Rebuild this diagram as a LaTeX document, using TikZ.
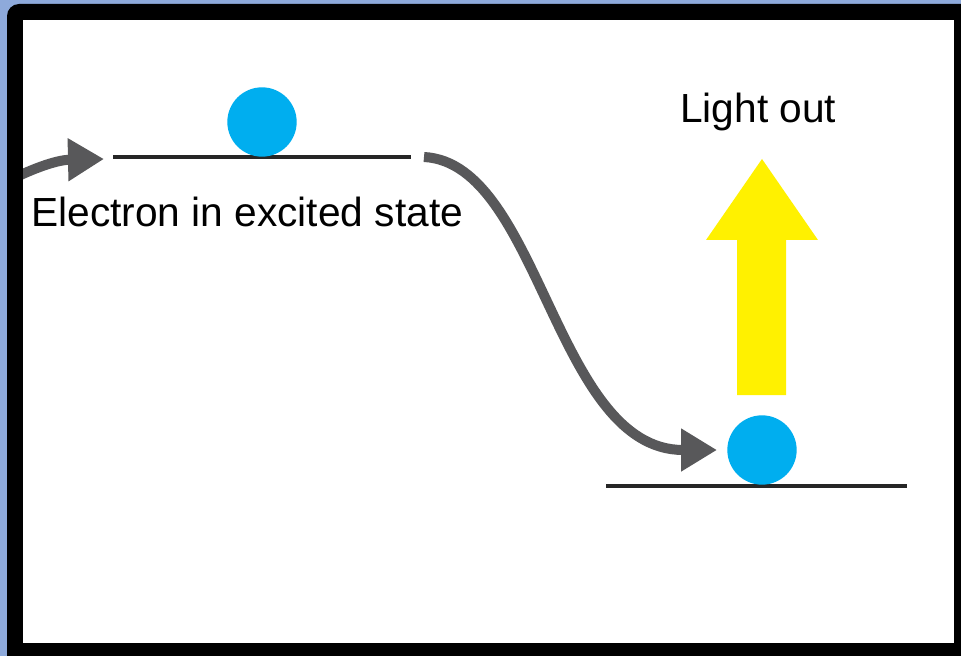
\documentclass[tikz,border=0pt]{standalone}
\usepackage{fontspec}
\setmainfont{Liberation Sans}
\usetikzlibrary{arrows.meta}

\definecolor{frameblue}{RGB}{142,170,219}
\definecolor{arrowgray}{RGB}{88,88,90}
\definecolor{electroncyan}{RGB}{0,174,239}
\definecolor{lightyellow}{RGB}{255,241,0}

\begin{document}
\begin{tikzpicture}[
    x=0.75pt, y=-0.75pt,
    electron/.style={circle, fill=electroncyan, minimum size=52pt, inner sep=0pt},
    level/.style={line width=2.3pt, draw=black!85},
    label/.style={font=\fontsize{30.5}{36}\selectfont, inner sep=0pt, anchor=base west},
    jump/.style={line width=7.5pt, draw=arrowgray, -{Triangle[length=27pt, width=30.5pt]}},
    lightarrow/.style={fill=lightyellow}
]
\useasboundingbox (0,0) rectangle (961,656);

% Frame
\fill[frameblue] (0,0) rectangle (961,656);
\begin{scope}
\clip (0,0) rectangle (961,656);
\fill[black, rounded corners=9pt] (7,4) rectangle (990,690);
\end{scope}
\fill[white] (23,20) rectangle (954,643);

% Energy levels
\coordinate (upL) at (113,157);
\coordinate (upR) at (411,157);
\coordinate (lowL) at (606,486);
\coordinate (lowR) at (907,486);
\draw[level] (upL) -- (upR);
\draw[level] (lowL) -- (lowR);

% Electrons
\node[electron] (excited) at (262,122) {};
\node[electron] (ground) at (762,450) {};

% Labels
\node[label] (excitedlabel) at (31,227) {Electron in excited state};
\node[label] (lightlabel) at (680,123) {Light out};

% Arrows
\coordinate (inStart) at (8,181);
\coordinate (inEnd) at (104,159);
\coordinate (dropStart) at (424,157);
\coordinate (dropEnd) at (717,450);
\begin{scope}
\clip (23,20) rectangle (954,643);
\draw[jump] (inStart) .. controls (30,170) and (55,160) .. (inEnd);
\end{scope}
\draw[jump] (dropStart) .. controls (540,163) and (555,450) .. (dropEnd);

% Light out
\fill[lightarrow] (737,395) -- (737,240) -- (706,240) -- (762,159)
    -- (818,240) -- (786,240) -- (786,395) -- cycle;

\end{tikzpicture}
\end{document}
